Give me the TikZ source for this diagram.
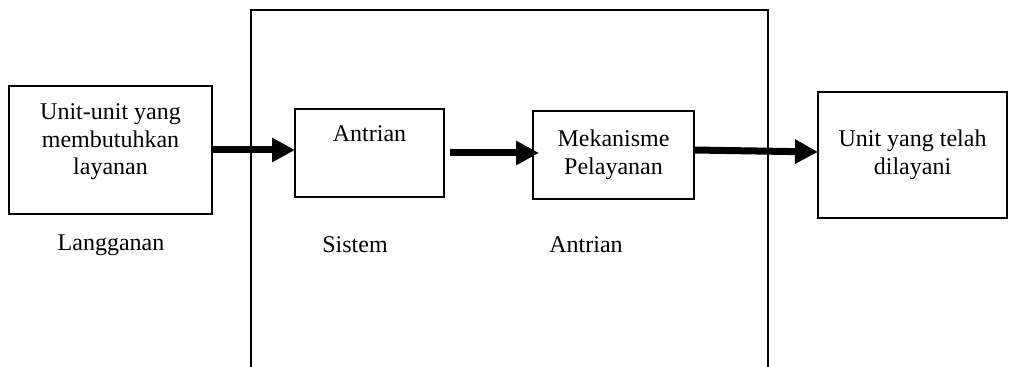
\documentclass[tikz,border=0pt]{standalone}
\usepackage{fontspec}
\setmainfont{Liberation Serif}
\usetikzlibrary{arrows.meta, positioning}

\begin{document}
\begin{tikzpicture}[
    x=0.5pt, y=-0.5pt,
    unitbox/.style={rectangle, draw=black, line width=0.9pt,
                    inner sep=4pt, outer sep=0pt, align=center},
    flow/.style={-{Triangle[length=11.5pt, width=11.5pt]}, line width=3.5pt},
    sysline/.style={line width=1.1pt},
    every node/.style={font=\fontsize{12pt}{13.8pt}\selectfont},
]
\useasboundingbox (0,0) rectangle (1016,367);

% Queue system frame, open at the bottom
\draw[sysline] (251,367) |- (768,10) -- (768,367);

% Units along the flow
\node[unitbox, minimum width=101.5pt, minimum height=64pt]
      at (110.5,150) (custbox) {Unit-unit yang\\membutuhkan\\layanan\\[-3pt]};
\node[unitbox, minimum width=74.5pt, text height=12.5pt, text depth=23.5pt,
      right=41.5pt of custbox, yshift=-1.5pt] (queuebox) {Antrian};
\node[unitbox, minimum width=80.5pt, minimum height=44pt,
      right=44.5pt of queuebox, yshift=-1pt] (servbox) {Mekanisme\\Pelayanan};
\node[unitbox, minimum width=94.5pt, minimum height=63pt,
      right=62pt of servbox] (donebox) {Unit yang telah\\dilayani};

% Captions
\node at (111,245) (custlabel) {Langganan};
\node at (355,245) (syslabel)  {Sistem};
\node at (586,245) (queuelabel) {Antrian};

\draw[flow] (custbox.east) -- (custbox.east -| queuebox.west);
\draw[flow] ([xshift=3pt]queuebox.east) -- ([xshift=3pt]queuebox.east -| servbox.west);
\draw[flow] ([yshift=2.5pt]servbox.east) -- ([yshift=1.5pt]donebox.west);

\end{tikzpicture}
\end{document}
